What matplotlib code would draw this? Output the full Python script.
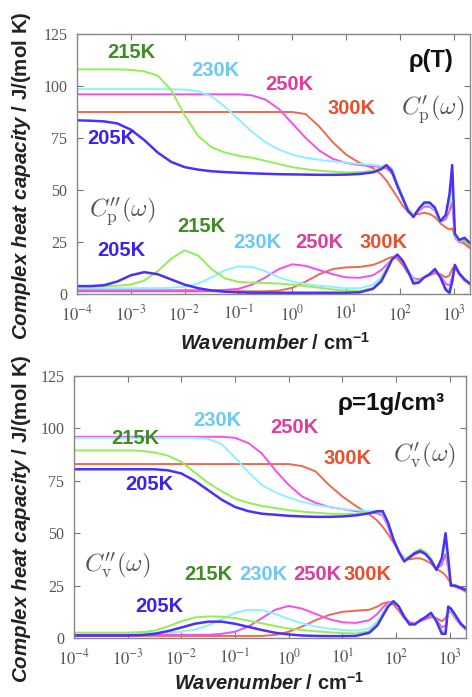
import numpy as np
import matplotlib
matplotlib.use('Agg')
import matplotlib.pyplot as plt
from matplotlib.ticker import NullLocator

plt.rcParams['font.family'] = ['Liberation Sans', 'DejaVu Sans']
plt.rcParams['mathtext.fontset'] = 'stix'
plt.rcParams['mathtext.it'] = 'Liberation Sans:italic:bold'
plt.rcParams['mathtext.rm'] = 'Liberation Sans:bold'
plt.rcParams['mathtext.bf'] = 'Liberation Sans:bold'

# log10(wavenumber / cm^-1) where the curves were read
log_wn = [-4.0, -3.75, -3.5, -3.25, -3.0, -2.75, -2.5, -2.25, -2.0, -1.75, -1.5, -1.25,
          -1.0, -0.75, -0.5, -0.25, 0.0, 0.25, 0.5, 0.75, 1.0, 1.25, 1.5, 1.65, 1.75, 1.85,
          1.95, 2.05, 2.15, 2.25, 2.35, 2.45, 2.55, 2.65, 2.75, 2.85, 2.92, 2.97, 3.02, 3.1,
          3.2, 3.3]

temps = ['205K', '215K', '230K', '250K', '300K']

# ---- rho(T): C'_p and C''_p ----
cp_re_205 = [83.5, 83.3, 83, 82, 79, 74, 68, 63.5, 61, 59.8, 59, 58.6, 58.3, 58, 57.8, 57.6, 57.5,
             57.4, 57.3, 57.3, 57.4, 57.7, 58.5, 60, 62, 59, 52, 46, 40, 37, 41, 44, 44, 41.5,
             35, 38, 48, 62, 29, 26, 27, 24.5]
cp_re_215 = [108, 108, 108, 108, 107.8, 107, 105, 98, 86, 76, 70.5, 68, 66.5, 65.5, 64, 62.5, 61,
             60, 59.3, 58.8, 58.5, 58.6, 59.2, 60.5, 61.5, 60, 53, 47, 41, 38, 41, 43.5, 43.5, 41,
             34.5, 38, 46, 57, 28, 25.5, 26, 23.5]
cp_re_230 = [98.5, 98.5, 98.5, 98.5, 98.5, 98.5, 98.5, 98.4, 98.3, 97.5, 95, 90, 84, 78, 73, 69.5,
             67, 65.5, 64.5, 63.8, 63.2, 62.5, 62, 61.5, 61.5, 60.5, 53.5, 47, 41, 38, 40.5, 43,
             43, 40.5, 34.5, 38, 44, 52, 27.5, 25.5, 26, 23.5]
cp_re_250 = [96, 96, 96, 96, 96, 96, 96, 96, 96, 96, 96, 96, 96, 95.5, 93.5, 89, 82, 75, 69, 65,
             63, 62, 61.5, 61, 60.5, 58, 53, 46, 40.5, 38, 40, 42, 42, 40, 34.5, 36, 40, 44, 27,
             25, 25.5, 23]
cp_re_300 = [87.5, 87.5, 87.5, 87.5, 87.5, 87.5, 87.5, 87.5, 87.5, 87.5, 87.5, 87.5, 87.5, 87.5,
             87.5, 87.5, 87.5, 86.5, 80.5, 73, 67, 63, 60.5, 57.5, 54.5, 50.5, 46.5, 42.5, 39.5,
             38, 38.5, 39, 38.5, 37, 34, 32, 31, 31.5, 28, 25.5, 24, 22]

cp_im_205 = [3.8, 3.8, 4.2, 6, 9, 10.5, 9.5, 7, 4.5, 2.8, 1.7, 1.1, 0.8, 0.6, 0.6, 0.6, 0.6, 0.6,
             0.6, 0.6, 0.6, 0.8, 2.5, 6, 11, 16.5, 19, 16, 11, 5, 5.5, 8, 9.5, 12, 8, 2, 0.5, 6,
             14, 10, 7, 5]
cp_im_215 = [3.8, 3.8, 3.8, 4, 4.5, 6.5, 11, 17, 21, 18.5, 12, 7.5, 5.8, 5.5, 5.3, 5, 4.5, 3.8,
             3, 2.2, 1.6, 1.4, 3, 7, 12, 16.5, 18.5, 16, 11, 6.5, 5.5, 8, 9.5, 11.5, 8, 2.5, 1, 6,
             13.5, 10, 7, 5]
cp_im_230 = [2.8, 2.8, 2.8, 2.8, 2.8, 2.8, 2.8, 3, 3.5, 5, 8, 11.5, 13.3, 13, 11, 8, 6, 4.8, 4,
             3.4, 2.8, 2.8, 4.5, 8, 12.5, 16.5, 18.5, 16, 11, 7, 6, 8, 9.5, 11.5, 8.5, 3, 2, 7, 13,
             10, 7, 5]
cp_im_250 = [1.8, 1.8, 1.8, 1.8, 1.8, 1.8, 1.8, 1.8, 1.8, 1.8, 1.8, 2, 2.5, 4.5, 8, 12, 14.3,
             13.5, 11.5, 9.5, 8, 7.8, 9, 11.5, 14, 16.5, 18, 15.5, 11, 7.5, 6.5, 8, 9.5, 11, 9, 5,
             4, 8, 12.5, 9.5, 7, 5]
cp_im_300 = [1.3, 1.3, 1.3, 1.3, 1.3, 1.3, 1.3, 1.3, 1.3, 1.3, 1.3, 1.3, 1.3, 1.3, 1.3, 1.6, 3,
             6, 9.5, 12, 12.8, 13, 14, 15.5, 16.8, 17.8, 17, 14, 10, 7.5, 7, 8, 9, 10, 9.5, 8, 9,
             12, 13.5, 9.5, 6.5, 4.5]

# ---- rho = 1 g/cm3: C'_v and C''_v ----
cv_re_205 = [80.5, 80.5, 80.5, 80.5, 80.5, 80.5, 80.5, 80, 78.5, 75, 70.5, 66, 62.5, 60.5, 59.3,
             58.8, 58.3, 58, 57.8, 57.8, 58, 58.5, 59.5, 60.5, 60.5, 55, 47, 41, 36.5, 38.5, 40.5,
             41.5, 40, 37, 32.5, 38, 50, 38, 25, 25, 24, 23]
cv_re_215 = [89.5, 89.5, 89.5, 89.5, 89.5, 89.3, 88.5, 87, 84, 79, 74, 70, 66.5, 64.5, 63, 62,
             61, 60.3, 59.8, 59.3, 59.2, 59.3, 59.8, 60.5, 60, 55, 47.5, 41.5, 37, 39, 41, 42.5,
             41, 38, 33, 37.5, 48, 35, 25, 25, 24, 23]
cv_re_230 = [95.5, 95.5, 95.5, 95.5, 95.5, 95.5, 95.5, 95.5, 95.5, 95.5, 95, 92.5, 86, 79, 73,
             69.5, 67, 65, 63.5, 62.5, 61.5, 61, 60.5, 60.5, 59.5, 54, 47, 41.5, 37.5, 39, 41, 42,
             40.5, 37.5, 33, 37, 46, 34, 25, 25, 24, 23]
cv_re_250 = [96, 96, 96, 96, 96, 96, 96, 96, 96, 96, 96, 96, 95.5, 93, 88, 80, 73, 67.5, 64.5,
             62.5, 61.5, 60.5, 60, 59.5, 58.5, 53, 46.5, 41, 37.5, 38.5, 40, 41, 40, 37, 33, 35,
             40, 33, 25, 24.5, 23.5, 22.5]
cv_re_300 = [83, 83, 83, 83, 83, 83, 83, 83, 83, 83, 83, 83, 83, 83, 83, 83, 83, 82, 79.5, 73,
             67.5, 63, 59, 56, 53, 49.5, 45.5, 41.5, 38, 37.5, 38, 38, 37, 35.5, 33, 31.5, 30, 28,
             26, 24.5, 23.5, 22]

cv_im_205 = [1.2, 1.2, 1.2, 1.2, 1.2, 1.4, 2, 3.3, 5, 6.8, 7.8, 7.8, 6.8, 5.3, 3.8, 2.5, 1.7,
             1.2, 1, 0.9, 0.9, 1, 2.5, 6, 10.5, 15, 17.5, 15, 10, 6.5, 6.5, 8.5, 10, 12, 8, 2, 2,
             15, 14, 11, 7, 4.5]
cv_im_215 = [2.5, 2.5, 2.5, 2.5, 2.5, 2.8, 3.5, 5.5, 8, 9.8, 10.3, 10.2, 9.5, 8.3, 7, 5.7, 4.5,
             3.8, 3.2, 2.7, 2.3, 2.2, 3.2, 7, 11, 15.5, 17.5, 15, 10, 6.5, 6.5, 8.5, 10, 11.5, 8,
             2.5, 3, 14, 13.5, 10.5, 7, 4.5]
cv_im_230 = [2.5, 2.5, 2.5, 2.5, 2.5, 2.5, 2.5, 2.5, 3, 4, 6, 9, 12, 13.5, 13.3, 11.5, 9, 7, 5.5,
             4.5, 3.8, 3.5, 4.5, 8, 12, 16, 17.5, 15, 10, 6.8, 6.8, 8.5, 10, 11.5, 8.5, 3, 4, 13.5,
             13, 10, 7, 4.5]
cv_im_250 = [1.5, 1.5, 1.5, 1.5, 1.5, 1.5, 1.5, 1.5, 1.5, 1.5, 1.5, 2, 3, 5.5, 9.5, 13.5, 15.3,
             14, 11.5, 9, 7.5, 7.2, 8.5, 11.5, 14.5, 17, 17.5, 15, 10.5, 7.5, 7, 8.5, 9.5, 11, 9,
             5, 6, 12.5, 12.5, 9.5, 6.5, 4.5]
cv_im_300 = [1, 1, 1, 1, 1, 1, 1, 1, 1, 1, 1, 1, 1, 1, 1, 1.5, 3, 5.5, 8.5, 11, 12.5, 13, 13.5,
             15, 16.5, 17, 16, 13, 9.5, 7.5, 7, 8, 9, 10, 9.5, 8, 9.5, 12.5, 13, 9.5, 6.5, 4]

line_col = {'205K': '#4a30ff', '215K': '#92ee55', '230K': '#8ef0ff',
            '250K': '#f050f0', '300K': '#ec6a50'}
text_col = {'205K': '#3a22ee', '215K': '#3e8c22', '230K': '#6cc8f8',
            '250K': '#e03c9c', '300K': '#e6502e'}
line_w = {'205K': 1.8, '215K': 1.4, '230K': 1.4, '250K': 1.4, '300K': 1.4}
draw_order = ['300K', '250K', '230K', '215K', '205K']

wn = 10 ** np.array(log_wn)
W, H = 472, 697

fig = plt.figure(figsize=(W / 100, H / 100), dpi=100)
ax1 = fig.add_axes([77 / W, 1 - 294 / H, (470 - 77) / W, (294 - 34) / H])
ax2 = fig.add_axes([74 / W, 1 - 638 / H, (466 - 74) / W, (638 - 376) / H])

panels = [
    (ax1, dict(zip(temps, [cp_re_205, cp_re_215, cp_re_230, cp_re_250, cp_re_300])),
     dict(zip(temps, [cp_im_205, cp_im_215, cp_im_230, cp_im_250, cp_im_300]))),
    (ax2, dict(zip(temps, [cv_re_205, cv_re_215, cv_re_230, cv_re_250, cv_re_300])),
     dict(zip(temps, [cv_im_205, cv_im_215, cv_im_230, cv_im_250, cv_im_300]))),
]

xticks = [1e-4, 1e-3, 1e-2, 1e-1, 1e0, 1e1, 1e2, 1e3]
xticklabels = [r'$10^{-4}$', r'$10^{-3}$', r'$10^{-2}$', r'$10^{-1}$',
               r'$10^{0}$', r'$10^{1}$', r'$10^{2}$', r'$10^{3}$']
yticks = [0, 25, 50, 75, 100, 125]

for ax, real, imag in panels:
    for t in draw_order:
        ax.plot(wn, real[t], color=line_col[t], lw=line_w[t], solid_capstyle='round')
        ax.plot(wn, imag[t], color=line_col[t], lw=line_w[t], solid_capstyle='round')
    ax.set_xscale('log')
    ax.set_xlim(1e-4, 2000)
    ax.set_ylim(0, 125)
    ax.set_xticks(xticks)
    ax.set_xticklabels(xticklabels, fontsize=12, color='#555')
    ax.xaxis.set_minor_locator(NullLocator())
    ax.set_yticks(yticks)
    ax.set_yticklabels([str(v) for v in yticks], family='Liberation Serif',
                       fontsize=11.5, color='#555')
    ax.tick_params(direction='in', top=True, right=True, length=4, width=0.8,
                   color='#777', pad=7)
    for s in ax.spines.values():
        s.set_color('#888')
        s.set_linewidth(1.0)


def put(x, y, s, **kw):
    fig.text(x / W, 1 - y / H, s, ha='center', va='center', **kw)


lab = dict(fontsize=14.5, fontweight='bold')
# top panel labels
put(131, 52, '215K', color=text_col['215K'], **lab)
put(215, 70, '230K', color=text_col['230K'], **lab)
put(289, 85, '250K', color=text_col['250K'], **lab)
put(352, 109, '300K', color=text_col['300K'], **lab)
put(111, 138, '205K', color=text_col['205K'], **lab)
put(201, 227, '215K', color=text_col['215K'], **lab)
put(121, 250, '205K', color=text_col['205K'], **lab)
put(257, 243, '230K', color=text_col['230K'], **lab)
put(319, 243, '250K', color=text_col['250K'], **lab)
put(383, 243, '300K', color=text_col['300K'], **lab)
put(431, 60, 'ρ(T)', color='#111', fontsize=17, fontweight='bold')
put(433, 110, r"$C_{\rm p}'(\omega)$", color='#555', fontsize=18, math_fontfamily='cm')
put(122, 212, r"$C_{\rm p}''(\omega)$", color='#555', fontsize=18, math_fontfamily='cm')

# bottom panel labels
put(217, 420, '230K', color=text_col['230K'], **lab)
put(294, 428, '250K', color=text_col['250K'], **lab)
put(135, 438, '215K', color=text_col['215K'], **lab)
put(347, 458, '300K', color=text_col['300K'], **lab)
put(149, 485, '205K', color=text_col['205K'], **lab)
put(208, 575, '215K', color=text_col['215K'], **lab)
put(263, 575, '230K', color=text_col['230K'], **lab)
put(317, 575, '250K', color=text_col['250K'], **lab)
put(368, 575, '300K', color=text_col['300K'], **lab)
put(159, 607, '205K', color=text_col['205K'], **lab)
put(391, 403, 'ρ=1g/cm³', color='#111', fontsize=17.5, fontweight='bold')
put(425, 455, r"$C_{\rm v}'(\omega)$", color='#555', fontsize=18, math_fontfamily='cm')
put(117, 565, r"$C_{\rm v}''(\omega)$", color='#555', fontsize=18, math_fontfamily='cm')

# axis labels
ylab = r'$\mathit{Complex\ heat\ capacity}$ / J/(mol K)'
xlab = r'$\mathit{Wavenumber}$ / cm$^{-1}$'
put(22, 176, ylab, rotation=90, fontsize=14.8, fontweight='bold', color='#222',
    math_fontfamily='custom')
put(22, 519, ylab, rotation=90, fontsize=14.8, fontweight='bold', color='#222',
    math_fontfamily='custom')
put(275, 343, xlab, fontsize=14.5, fontweight='bold', color='#222', math_fontfamily='custom')
put(269, 683, xlab, fontsize=14.5, fontweight='bold', color='#222', math_fontfamily='custom')

fig.savefig('out.png', dpi=100)
